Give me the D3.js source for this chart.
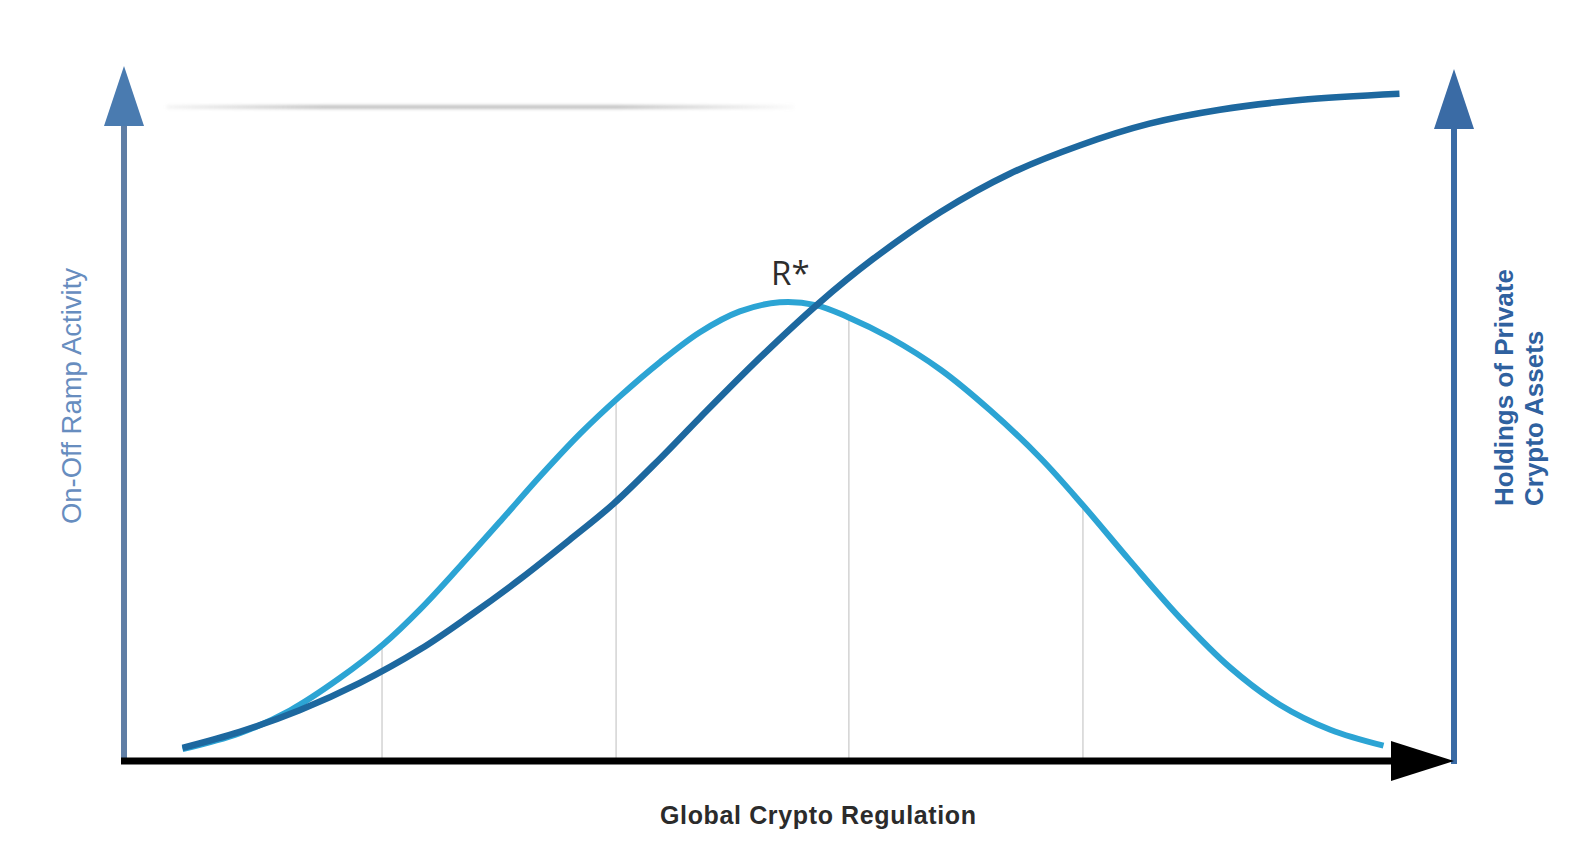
<!DOCTYPE html>
<html>
<head>
<meta charset="utf-8">
<script src="https://cdn.jsdelivr.net/npm/d3@7"></script>
<style>
  html, body { margin: 0; padding: 0; background: #ffffff; }
  svg { display: block; }
</style>
</head>
<body>
<svg id="chart" width="1586" height="852"></svg>
<script>
// ---- data (chart units: x = regulation 0..100, y = level 0..100) ----
const rampX = [4.4, 8.7, 12.5, 16.2, 19.5, 22.3, 25.3, 28.3, 31.3, 34.3, 37.3, 40.3, 43.3, 46.3, 49.3,
               52.0, 54.4, 57.6, 61.4, 65.1, 68.9, 72.1, 75.6, 79.4, 83.2, 86.9, 90.7, 94.7];
const rampActivity = [1.7, 4.0, 7.3, 11.9, 16.8, 21.9, 28.1, 34.5, 41.0, 47.1, 52.5, 57.4, 61.7, 64.7, 66.0,
                      65.6, 63.9, 60.9, 56.3, 50.5, 43.6, 36.8, 28.9, 20.6, 13.4, 8.1, 4.5, 2.2];

const holdX = [4.4, 8.7, 13.2, 17.7, 22.3, 26.0, 29.8, 33.5, 36.8, 40.3, 43.3, 47.8, 52.2, 56.3, 61.4,
               66.6, 71.9, 77.1, 82.4, 88.4, 95.9];
const holdings = [1.9, 4.2, 7.3, 11.2, 16.1, 20.9, 26.2, 31.8, 37.0, 43.5, 49.4, 58.0, 65.8, 72.2, 79.0,
                  84.5, 88.6, 91.7, 93.7, 95.1, 96.0];

const dropLines = [19.4, 37.0, 54.5, 72.1];

const xLabel     = "Global Crypto Regulation";
const leftLabel  = "On-Off Ramp Activity";
const rightLabel = ["Holdings of Private", "Crypto Assets"];
const peakLabel  = "R*";
const peakLabelPos = [50.1, 68.5];
const decoLine   = [3.2, 50.4, 94.1];   // faint line at the top: x from, x to, y

// ---- setup ----
const svg = d3.select("#chart");
const x = d3.scaleLinear().domain([0, 100]).range([124, 1454]);
const y = d3.scaleLinear().domain([0, 100]).range([761, 66]);

const defs = svg.append("defs");
const grad = defs.append("linearGradient").attr("id", "fade")
  .attr("gradientUnits", "userSpaceOnUse")
  .attr("x1", x(decoLine[0])).attr("x2", x(decoLine[1])).attr("y1", 0).attr("y2", 0);
grad.append("stop").attr("offset", "0%").attr("stop-color", "#bdbdbd").attr("stop-opacity", 0.15);
grad.append("stop").attr("offset", "25%").attr("stop-color", "#bdbdbd").attr("stop-opacity", 0.9);
grad.append("stop").attr("offset", "72%").attr("stop-color", "#bdbdbd").attr("stop-opacity", 0.9);
grad.append("stop").attr("offset", "100%").attr("stop-color", "#bdbdbd").attr("stop-opacity", 0.05);
defs.append("filter").attr("id", "blur").attr("x", "-5%").attr("y", "-300%").attr("width", "110%").attr("height", "700%")
  .append("feGaussianBlur").attr("stdDeviation", 1.5);

// faint decorative line at top
svg.append("rect")
  .attr("x", x(decoLine[0])).attr("width", x(decoLine[1]) - x(decoLine[0]))
  .attr("y", y(decoLine[2]) - 2).attr("height", 4)
  .attr("fill", "url(#fade)")
  .attr("filter", "url(#blur)");

const line = d3.line()
  .x(d => x(d[0])).y(d => y(d[1]))
  .curve(d3.curveCatmullRom.alpha(0.5));

const rampData = rampX.map((v, i) => [v, rampActivity[i]]);
const holdData = holdX.map((v, i) => [v, holdings[i]]);

// drop lines group (drawn under the curves)
const gDrop = svg.append("g");

const rampPath = svg.append("path")
  .datum(rampData)
  .attr("d", line)
  .attr("fill", "none")
  .attr("stroke", "#2ca4d4")
  .attr("stroke-width", 6)
  .attr("stroke-linecap", "butt");

// bell height at each drop line, read from the drawn path
const node = rampPath.node();
const total = node.getTotalLength();
function yAtX(px) {
  let lo = 0, hi = total;
  for (let k = 0; k < 40; k++) {
    const mid = (lo + hi) / 2;
    if (node.getPointAtLength(mid).x < px) lo = mid; else hi = mid;
  }
  return node.getPointAtLength((lo + hi) / 2).y;
}
gDrop.selectAll("line").data(dropLines).join("line")
  .attr("x1", d => x(d)).attr("x2", d => x(d))
  .attr("y1", d => yAtX(x(d)))
  .attr("y2", y(0))
  .attr("stroke", "#d6d6d6").attr("stroke-width", 1.6);

svg.append("path")
  .datum(holdData)
  .attr("d", line)
  .attr("fill", "none")
  .attr("stroke", "#1d689f")
  .attr("stroke-width", 6.5)
  .attr("stroke-linecap", "butt");

// ---- axes ----
// left axis
svg.append("line")
  .attr("x1", x(0)).attr("x2", x(0))
  .attr("y1", y(0) + 3).attr("y2", y(100) + 50)
  .attr("stroke", "#5f7ea5").attr("stroke-width", 6);
svg.append("path")
  .attr("d", d3.line()([[x(0), y(100)], [x(0) - 20, y(100) + 60], [x(0) + 20, y(100) + 60]]) + "Z")
  .attr("fill", "#4a7bb0");

// right axis
svg.append("line")
  .attr("x1", x(100)).attr("x2", x(100))
  .attr("y1", y(0) + 3).attr("y2", y(100) + 50)
  .attr("stroke", "#3a6ba5").attr("stroke-width", 6);
svg.append("path")
  .attr("d", d3.line()([[x(100), y(100) + 3], [x(100) - 20, y(100) + 63], [x(100) + 20, y(100) + 63]]) + "Z")
  .attr("fill", "#3a6ba5");

// x axis
svg.append("line")
  .attr("x1", x(0) - 3).attr("x2", x(100) - 58)
  .attr("y1", y(0)).attr("y2", y(0))
  .attr("stroke", "#000").attr("stroke-width", 7);
svg.append("path")
  .attr("d", d3.line()([[x(100), y(0)], [x(100) - 63, y(0) - 20], [x(100) - 63, y(0) + 20]]) + "Z")
  .attr("fill", "#000");

// ---- labels ----
svg.append("text")
  .attr("x", 818).attr("y", 824)
  .attr("text-anchor", "middle")
  .attr("font-family", "Liberation Sans, Arial, sans-serif")
  .attr("font-weight", "bold")
  .attr("font-size", 25)
  .attr("fill", "#2b2b2b")
  .attr("textLength", 316)
  .text(xLabel);

svg.append("text")
  .attr("transform", "translate(81,396) rotate(-90)")
  .attr("text-anchor", "middle")
  .attr("font-family", "Liberation Sans, Arial, sans-serif")
  .attr("font-size", 27.5)
  .attr("fill", "#678dbf")
  .text(leftLabel);

svg.append("g").selectAll("text").data(rightLabel).join("text")
  .attr("transform", (d, i) => `translate(${1513 + i * 30},506) rotate(-90)`)
  .attr("text-anchor", "start")
  .attr("font-family", "Liberation Sans, Arial, sans-serif")
  .attr("font-weight", "bold")
  .attr("font-size", 26)
  .attr("fill", "#2f619f")
  .text(d => d);

svg.append("text")
  .attr("x", x(peakLabelPos[0])).attr("y", y(peakLabelPos[1]))
  .attr("text-anchor", "middle")
  .attr("font-family", "Open Sans, DejaVu Sans, sans-serif")
  .attr("font-size", 33)
  .attr("fill", "#2d2d2d")
  .text(peakLabel);
</script>
</body>
</html>
